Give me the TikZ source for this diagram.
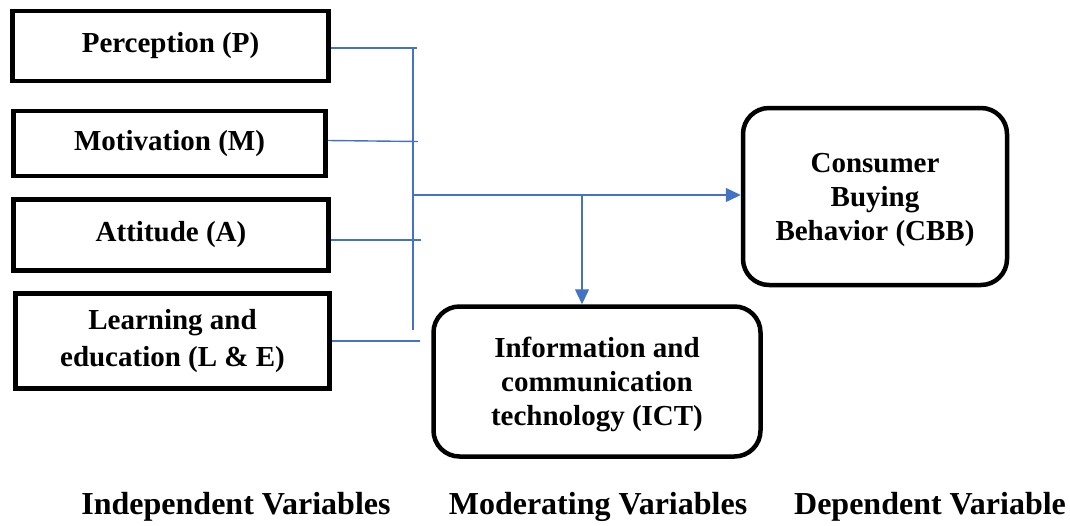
\documentclass[tikz,border=0pt]{standalone}
\usepackage{fontspec}
\setmainfont{Liberation Serif}[BoldFont={Liberation Serif Bold}]
\usetikzlibrary{arrows.meta}
\definecolor{linkblue}{HTML}{4472C4}
\tikzset{
  varbox/.style={draw=black, line width=4.5pt, fill=white, align=center,
    font=\fontsize{29}{34}\selectfont\bfseries, inner sep=0pt},
  roundbox/.style={varbox, rounded corners=26pt},
  link/.style={draw=linkblue, line width=1.4pt},
  arrowlink/.style={link, -{Triangle[length=15pt,width=14pt]}},
  caption/.style={font=\fontsize{32}{36}\selectfont\bfseries, anchor=center}
}
\begin{document}
\begin{tikzpicture}[x=1pt,y=-1pt]
  \useasboundingbox (0,0) rectangle (1070,525);

  % independent variables
  \node[varbox, minimum width=316pt, minimum height=70pt] (P) at (170.5,46) {Perception (P)};
  \node[varbox, minimum width=312pt, minimum height=65pt] (M) at (169.5,143.5) {Motivation (M)};
  \node[varbox, minimum width=315pt, minimum height=71pt] (A) at (171,235) {Attitude (A)};
  \node[varbox, minimum width=314pt, minimum height=95pt,
        font=\fontsize{29}{37}\selectfont\bfseries] (L) at (172.5,341) {Learning and\\education (L \& E)};

  % moderating and dependent variables
  \node[roundbox, minimum width=327pt, minimum height=150pt, text depth=-4pt] (ICT) at (597,381.5)
    {Information and\\communication\\technology (ICT)};
  \node[roundbox, minimum width=264pt, minimum height=177pt, text depth=-2pt] (CBB) at (875,196.5)
    {Consumer\\Buying\\Behavior (CBB)};

  % collecting bus
  \coordinate (busTop) at (413,48);
  \coordinate (busBot) at (413,330);
  \coordinate (join) at (413,195);
  \coordinate (split) at (582,195);
  \draw[link] (busTop) -- (busBot);
  \draw[link] ([yshift=-2pt]P.east) -- ++(86,0) coordinate (pEnd);
  \draw[link] ([yshift=3pt]M.east) -- ++(90,1) coordinate (mEnd);
  \draw[link] ([yshift=-5pt]A.east) -- ++(90,0) coordinate (aEnd);
  \draw[link] (L.east) -- ++(88,0) coordinate (lEnd);

  % arrows to outcome and moderator
  \draw[arrowlink] (join) -- (join -| CBB.west);
  \draw[arrowlink] (split) -- (split |- ICT.north);

  % column captions
  \node[caption] (capI) at (236,507) {Independent Variables};
  \node[caption] (capM) at (598,507) {Moderating Variables};
  \node[caption] (capD) at (930,507) {Dependent Variable};
\end{tikzpicture}
\end{document}
